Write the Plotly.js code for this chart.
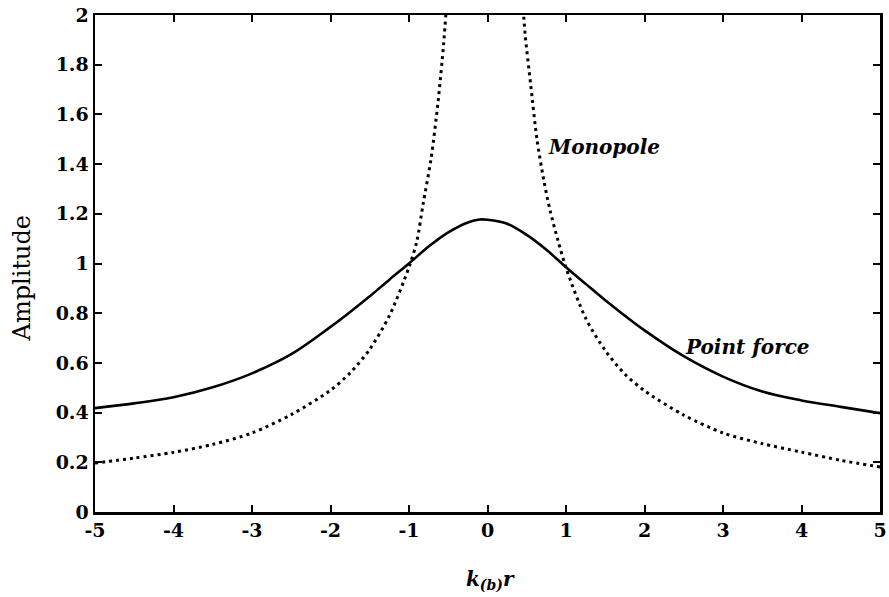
<!DOCTYPE html>
<html>
<head>
<meta charset="utf-8">
<script src="https://cdn.plot.ly/plotly-3.0.1.min.js"></script>
<style>html,body{margin:0;padding:0;background:#fff;}#chart{width:889px;height:597px;}</style>
</head>
<body>
<div id="chart"></div>
<script>
// Point force (solid)
const pfX = [-5, -4.5, -4, -3.5, -3, -2.5, -2, -1.75, -1.5, -1.25, -1, -0.75, -0.5, -0.25, -0.1, 0, 0.25, 0.5, 0.75, 1, 1.25, 1.5, 1.75, 2, 2.5, 3, 3.5, 4, 4.5, 5];
const pfY = [0.418, 0.437, 0.462, 0.502, 0.558, 0.635, 0.745, 0.805, 0.868, 0.935, 1.0, 1.068, 1.125, 1.165, 1.177, 1.176, 1.16, 1.115, 1.055, 0.985, 0.918, 0.852, 0.79, 0.731, 0.627, 0.545, 0.485, 0.449, 0.423, 0.398];

// Monopole (dotted), two branches separated by a gap
const mpX = [-5, -4.5, -4, -3.5, -3, -2.5, -2, -1.75, -1.5, -1.25, -1, -0.9, -0.82, -0.72, -0.63, -0.56, -0.52, null, 0.45, 0.48, 0.55, 0.63, 0.72, 0.8, 0.9, 1, 1.25, 1.5, 1.75, 2, 2.5, 3, 3.5, 4, 4.5, 5];
const mpY = [0.197, 0.217, 0.240, 0.272, 0.318, 0.392, 0.49, 0.56, 0.655, 0.79, 0.985, 1.09, 1.24, 1.42, 1.65, 1.88, 2.05, null, 2.05, 1.92, 1.72, 1.50, 1.33, 1.21, 1.09, 0.983, 0.78, 0.65, 0.555, 0.488, 0.39, 0.318, 0.275, 0.241, 0.208, 0.181];

const xTickVals = [-5, -4, -3, -2, -1, 0, 1, 2, 3, 4, 5];
const xTickText = ['-5', '-4', '-3', '-2', '-1', '0', '1', '2', '3', '4', '5'];
const yTickVals = [0, 0.2, 0.4, 0.6, 0.8, 1, 1.2, 1.4, 1.6, 1.8, 2];
const yTickText = ['0', '0.2', '0.4', '0.6', '0.8', '1', '1.2', '1.4', '1.6', '1.8', '2'];

const labelMono = 'Monopole';
const labelPoint = 'Point force';

const traces = [
  {x: pfX, y: pfY, type: 'scatter', mode: 'lines', line: {color: '#000', width: 2.6, shape: 'spline', smoothing: 1}, hoverinfo: 'skip'},
  {x: mpX, y: mpY, type: 'scatter', mode: 'lines', connectgaps: false, line: {color: '#000', width: 3, dash: '3px,4px', shape: 'spline', smoothing: 0.8}, hoverinfo: 'skip'}
];

const tickFont = {family: 'DejaVu Serif, serif', size: 19, color: '#000', weight: 'bold'};

const layout = {
  width: 889, height: 597,
  margin: {l: 95, r: 9, t: 15, b: 85},
  paper_bgcolor: '#fff', plot_bgcolor: '#fff',
  showlegend: false,
  xaxis: {
    range: [-5, 5], tickvals: xTickVals, ticktext: xTickText,
    ticks: 'inside', ticklen: 7, tickwidth: 2, tickcolor: '#000',
    showline: true, linecolor: '#000', linewidth: 2.5, mirror: 'ticks',
    showgrid: false, zeroline: false, tickfont: tickFont
  },
  yaxis: {
    range: [0, 2], tickvals: yTickVals, ticktext: yTickText,
    ticks: 'inside', ticklen: 7, tickwidth: 2, tickcolor: '#000',
    showline: true, linecolor: '#000', linewidth: 2.5, mirror: 'ticks',
    showgrid: false, zeroline: false, tickfont: tickFont
  },
  annotations: [
    {text: 'Amplitude', xref: 'paper', yref: 'paper', x: -0.093, y: 0.47, xanchor: 'center', yanchor: 'middle', textangle: -90, showarrow: false,
     font: {family: 'DejaVu Serif, serif', size: 24, color: '#000'}},
    {text: '<b><i>k</i></b><sub><b><i>(b)</i></b></sub><b><i>r</i></b>', xref: 'paper', yref: 'paper', x: 0.504, y: -0.136, xanchor: 'center', yanchor: 'middle', showarrow: false,
     font: {family: 'DejaVu Serif, serif', size: 20, color: '#000'}},
    {text: '<b><i>' + labelMono + '</i></b>', xref: 'x', yref: 'y', x: 1.48, y: 1.47, xanchor: 'center', yanchor: 'middle', showarrow: false,
     font: {family: 'DejaVu Serif, serif', size: 20, color: '#000'}},
    {text: '<b><i>' + labelPoint + '</i></b>', xref: 'x', yref: 'y', x: 3.31, y: 0.665, xanchor: 'center', yanchor: 'middle', showarrow: false,
     font: {family: 'DejaVu Serif, serif', size: 20, color: '#000'}}
  ]
};

Plotly.newPlot('chart', traces, layout, {staticPlot: true, displayModeBar: false});
</script>
</body>
</html>
